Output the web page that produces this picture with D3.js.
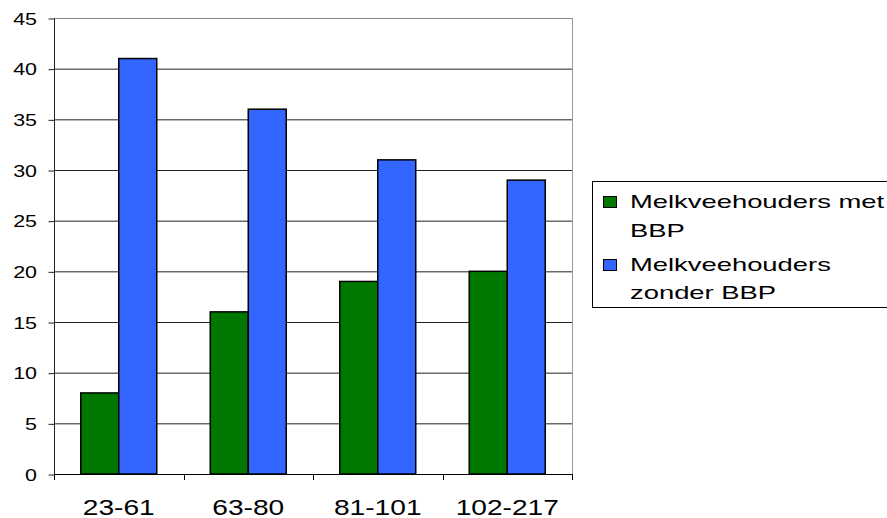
<!DOCTYPE html>
<html>
<head>
<meta charset="utf-8">
<script src="https://cdn.jsdelivr.net/npm/d3@7"></script>
<style>
  html, body { margin: 0; padding: 0; background: #fff; }
  svg { display: block; font-family: "Liberation Sans", Arial, sans-serif; }
</style>
</head>
<body>
<svg id="chart" width="887" height="518"></svg>
<script>
// Size classes and counts per group
const categories = ["23-61", "63-80", "81-101", "102-217"];
const metBBP = [8, 16, 19, 20];
const zonderBBP = [41, 36, 31, 29];
const seriesNames = ["Melkveehouders met BBP", "Melkveehouders zonder BBP"];
const seriesLegendLines = [["Melkveehouders met", "BBP"], ["Melkveehouders", "zonder BBP"]];
const seriesColors = ["#007800", "#3366ff"];
const yTicks = [0, 5, 10, 15, 20, 25, 30, 35, 40, 45];

const svg = d3.select("#chart");
const plot = { left: 54, right: 572, top: 18, bottom: 474 };

const x = d3.scaleBand().domain(categories).range([plot.left, plot.right]).paddingInner(0).paddingOuter(0);
const xInner = d3.scaleBand().domain([0, 1]).range([0, 76]);
const groupOffset = (x.bandwidth() - 76) / 2;
const y = d3.scaleLinear().domain([0, 45]).range([plot.bottom, plot.top]);

// Text drawn with a wide horizontal stretch
function wideText(parent, tx, ty, str, size, sx, anchor) {
  return parent.append("text")
    .attr("transform", `translate(${tx},${ty}) scale(${sx},1)`)
    .attr("text-anchor", anchor || "start")
    .attr("font-size", size)
    .attr("fill", "#000")
    .text(str);
}

// Gridlines
svg.append("g").selectAll("line").data(yTicks.filter(d => d > 0)).join("line")
  .attr("x1", plot.left).attr("x2", plot.right)
  .attr("y1", d => y(d) + 0.5).attr("y2", d => y(d) + 0.5)
  .attr("stroke", d => d === 45 ? "#888" : "#222").attr("stroke-width", 1);

// Right border of plot area
svg.append("line")
  .attr("x1", plot.right + 0.5).attr("x2", plot.right + 0.5)
  .attr("y1", plot.top).attr("y2", plot.bottom)
  .attr("stroke", "#999");

// Bars
const rows = categories.map((c, i) => ({ c, vals: [metBBP[i], zonderBBP[i]] }));
const groups = svg.append("g").selectAll("g").data(rows).join("g")
  .attr("transform", d => `translate(${x(d.c) + groupOffset},0)`);
groups.selectAll("rect").data(d => d.vals.map((v, k) => ({ v, k }))).join("rect")
  .attr("x", d => xInner(d.k))
  .attr("y", d => y(d.v))
  .attr("width", xInner.bandwidth())
  .attr("height", d => y(0) - y(d.v))
  .attr("fill", d => seriesColors[d.k])
  .attr("stroke", "#000").attr("stroke-width", 1.5);

// Y axis: line and tick marks from d3, labels drawn stretched
const yAxis = d3.axisLeft(y).tickValues(yTicks).tickSize(6).tickFormat("");
const gy = svg.append("g").attr("transform", `translate(${plot.left + 0.5},0.5)`).call(yAxis);
gy.selectAll("line, path").attr("stroke", "#222");
gy.select(".domain").attr("d", `M0,${plot.top}V${plot.bottom}`);
const yLabels = svg.append("g");
yTicks.forEach(t => wideText(yLabels, 37, y(t) + 6.5, String(t), 16.5, 1.3, "end"));

// X axis with ticks at band boundaries
svg.append("line")
  .attr("x1", plot.left).attr("x2", plot.right + 1)
  .attr("y1", plot.bottom + 0.5).attr("y2", plot.bottom + 0.5)
  .attr("stroke", "#000");
const bounds = categories.map(c => x(c)).concat([x(categories[categories.length - 1]) + x.bandwidth()]);
svg.append("g").selectAll("line").data(bounds).join("line")
  .attr("x1", d => Math.round(d) + 0.5).attr("x2", d => Math.round(d) + 0.5)
  .attr("y1", plot.bottom).attr("y2", plot.bottom + 6)
  .attr("stroke", "#000");
const xLabels = svg.append("g");
categories.forEach(c => wideText(xLabels, x(c) + x.bandwidth() / 2, 515, c, 22.5, 1.25, "middle"));

// Legend
const legend = svg.append("g");
legend.append("rect")
  .attr("x", 592.5).attr("y", 181.5).attr("width", 320).attr("height", 126)
  .attr("fill", "#fff").attr("stroke", "#000");
const lineBase = [[208, 237], [271, 299]];
seriesNames.forEach((name, k) => {
  legend.append("rect")
    .attr("x", 603.5).attr("y", lineBase[k][0] - 11.5).attr("width", 13).attr("height", 11)
    .attr("fill", seriesColors[k]).attr("stroke", "#000");
  seriesLegendLines[k].forEach((line, j) => {
    wideText(legend, 630, lineBase[k][j], line, 18.5, 1.48, "start");
  });
});
</script>
</body>
</html>
